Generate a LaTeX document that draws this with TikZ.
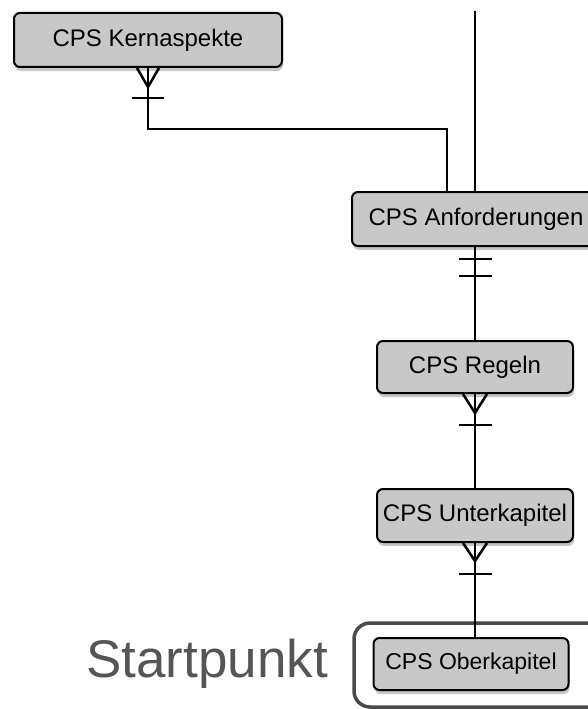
\documentclass[tikz,border=0pt]{standalone}
\usepackage{fontspec}
\setmainfont{Liberation Sans}
\usetikzlibrary{shadows,calc}
\definecolor{boxgray}{HTML}{C8C8C8}
\definecolor{framegray}{HTML}{4A4A4A}
\definecolor{textgray}{HTML}{555555}
\tikzset{
  entity/.style={draw=black, line width=2pt, fill=boxgray, rounded corners=6pt,
    font=\fontsize{24}{26}\selectfont, inner sep=0pt, anchor=center,
    drop shadow={opacity=0.45, shadow xshift=1pt, shadow yshift=-4pt}},
  conn/.style={line width=2.5pt, black},
  cardmark/.style={line width=2.5pt, black},
}
\begin{document}
\begin{tikzpicture}[x=1pt,y=-1pt]
\useasboundingbox (0,0) rectangle (588,709);
\clip (0,0) rectangle (588,709);

% frame around start point
\draw[framegray, line width=3.5pt, rounded corners=16pt] (354,623) rectangle (610,707);
\node[text=textgray, font=\fontsize{53}{56}\selectfont, anchor=center] (start) at (207,664) {Startpunkt};

% nodes
\node[entity, minimum width=268pt, minimum height=54pt] (kern) at (148,40) {CPS Kernaspekte};
\node[entity, minimum width=248pt, minimum height=54pt] (anf) at (476,219) {CPS Anforderungen};
\node[entity, minimum width=196pt, minimum height=52pt] (reg) at (475,367) {CPS Regeln};
\node[entity, minimum width=196pt, minimum height=53pt] (unt) at (475,515.5) {CPS Unterkapitel};
\node[entity, minimum width=195pt, minimum height=52pt, font=\fontsize{23}{25}\selectfont] (obk) at (471,664) {CPS Oberkapitel};

\coordinate (topend) at (475,11);

% connectors
\draw[conn] (topend) -- (topend |- anf.north);
\draw[conn] (kern.south) -- ++(0,61) -| ([xshift=-29pt]anf.north);
\draw[conn] (anf.south -| reg.north) -- (reg.north);
\draw[conn] (reg.south) -- (unt.north);
\draw[conn] (unt.south) -- (unt.south |- obk.north);

% crow's foot: Kernaspekte
\draw[cardmark] ([xshift=-11pt]kern.south) -- ([yshift=-19pt]kern.south) -- ([xshift=11pt]kern.south);
\draw[cardmark] ([xshift=-16pt,yshift=-30pt]kern.south) -- ([xshift=16pt,yshift=-30pt]kern.south);

% two bars: Anforderungen
\draw[cardmark] ([xshift=-16pt,yshift=-12pt]anf.south -| reg.north) -- ([xshift=17pt,yshift=-12pt]anf.south -| reg.north);
\draw[cardmark] ([xshift=-16pt,yshift=-29pt]anf.south -| reg.north) -- ([xshift=17pt,yshift=-29pt]anf.south -| reg.north);

% crow's foot: Regeln
\draw[cardmark] ([xshift=-12pt]reg.south) -- ([yshift=-19pt]reg.south) -- ([xshift=12pt]reg.south);
\draw[cardmark] ([xshift=-16pt,yshift=-31pt]reg.south) -- ([xshift=17pt,yshift=-31pt]reg.south);

% crow's foot: Unterkapitel
\draw[cardmark] ([xshift=-12pt]unt.south) -- ([yshift=-18pt]unt.south) -- ([xshift=12pt]unt.south);
\draw[cardmark] ([xshift=-16pt,yshift=-31pt]unt.south) -- ([xshift=17pt,yshift=-31pt]unt.south);
\end{tikzpicture}
\end{document}
